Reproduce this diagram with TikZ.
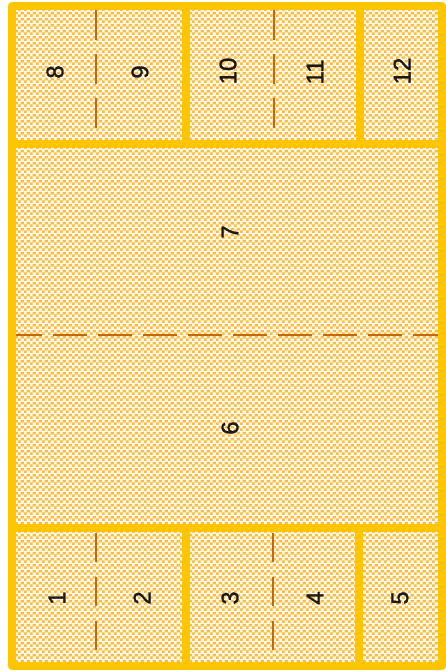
\documentclass[tikz,border=0pt]{standalone}
\usepackage{fontspec}
\setmainfont{Liberation Sans}
\newfontfamily\numfont{Liberation Sans}[FakeBold=1.2]
\usetikzlibrary{patterns.meta}
\definecolor{frame}{RGB}{255,198,0}
\definecolor{dotc}{RGB}{255,188,60}
\definecolor{basec}{RGB}{255,250,240}
\definecolor{dashc}{RGB}{196,104,8}
\definecolor{txt}{RGB}{25,25,25}
\pgfdeclarepattern{
  name=chk, type=colored,
  bottom left={\pgfpoint{0pt}{0pt}},
  top right={\pgfpoint{6pt}{6pt}},
  tile size={\pgfpoint{6pt}{6pt}},
  code={
    \pgfsetfillcolor{dotc}
    \pgfpathrectangle{\pgfpoint{0pt}{0pt}}{\pgfpoint{3pt}{3pt}}
    \pgfpathrectangle{\pgfpoint{3pt}{3pt}}{\pgfpoint{3pt}{3pt}}
    \pgfusepath{fill}
  }
}
\tikzset{
  border/.style={draw=frame, line width=8pt, line join=round},
  fold/.style={draw=dashc, line width=2.8pt},
  num/.style={text=txt, font=\numfont\fontsize{24}{24}\selectfont, rotate=90, inner sep=0pt}
}
\begin{document}
\begin{tikzpicture}[x=1pt,y=1pt]
\useasboundingbox (0,0) rectangle (446,-671);
\fill[white] (0,0) rectangle (446,-671);
% patterned interior
\fill[basec] (12,-6) rectangle (442,-666);
\fill[pattern={chk}] (12,-6) rectangle (442,-666);
% fold lines
\draw[fold, dash pattern=on 30pt off 14pt] (96,-10) -- (96,-128);
\draw[fold, dash pattern=on 30pt off 14pt] (274,-10) -- (274,-128);
\draw[fold, dash pattern=on 29pt off 15pt] (96,-533) -- (96,-650);
\draw[fold, dash pattern=on 29pt off 15pt] (273,-533) -- (273,-650);
\draw[fold, dash pattern=on 34pt off 11pt] (8,-335) -- (446,-335);
% frame
\draw[border] (12,-6) rectangle (442,-666);
\draw[border] (12,-144) -- (442,-144);
\draw[border] (12,-527.5) -- (442,-527.5);
\draw[border] (186,-6) -- (186,-144);
\draw[border] (360,-6) -- (360,-144);
\draw[border] (186,-527.5) -- (186,-666);
\draw[border] (359,-527.5) -- (359,-666);
% labels
\node[num] (n8) at (55,-72) {8};
\node[num] (n9) at (140,-72) {9};
\node[num] (n10) at (228,-71) {10};
\node[num] (n11) at (315,-72) {11};
\node[num] (n12) at (402,-71) {12};
\node[num] (n7) at (230,-232) {7};
\node[num] (n6) at (230,-428) {6};
\node[num] (n1) at (57,-598) {1};
\node[num] (n2) at (142,-598) {2};
\node[num] (n3) at (230,-598) {3};
\node[num] (n4) at (315,-598) {4};
\node[num] (n5) at (400,-598) {5};
\end{tikzpicture}
\end{document}
